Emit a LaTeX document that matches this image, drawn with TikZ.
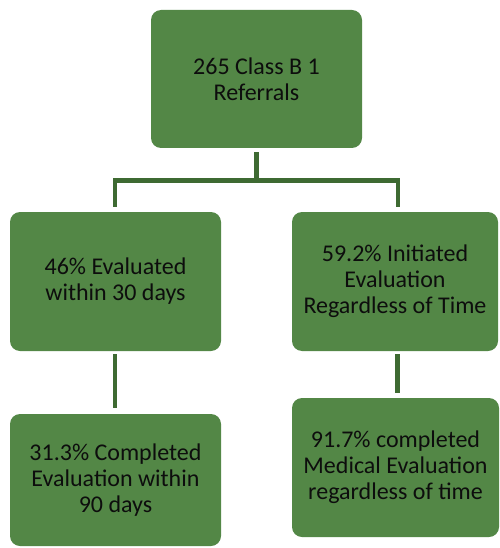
\documentclass[tikz,border=0pt]{standalone}
\usepackage{fontspec}
\setmainfont{Carlito}
\definecolor{boxgreen}{RGB}{83,135,70}
\definecolor{linegreen}{RGB}{62,106,50}
\definecolor{txt}{RGB}{13,13,13}
\begin{document}
\begin{tikzpicture}[x=1pt,y=-1pt,
  gbox/.style={rectangle, rounded corners=10pt, fill=boxgreen, draw=none,
    align=center, text=txt, inner sep=0pt,
    font=\fontsize{24pt}{26pt}\selectfont},
  conn/.style={draw=linegreen, line width=4.5pt, line join=miter}]
\useasboundingbox (0,0) rectangle (499,548);
\node[gbox, minimum width=211pt, minimum height=138pt] (top) at (256.5,79) {265 Class B 1\\Referrals};
\node[gbox, minimum width=211pt, minimum height=139pt] (l1) at (115.5,281.5) {46\% Evaluated\\within 30 days};
\node[gbox, minimum width=206pt, minimum height=139pt] (r1) at (395,281.5) {59.2\% Initiated\\Evaluation\\Regardless of Time};
\node[gbox, minimum width=211pt, minimum height=132pt] (l2) at (115.5,480) {31.3\% Completed\\Evaluation within\\90 days};
\node[gbox, minimum width=207pt, minimum height=139pt] (r2) at (395.5,467.5) {91.7\% completed\\Medical Evaluation\\regardless of time};
\coordinate (bar) at (256.5,180.5);
\draw[conn] ([yshift=-4pt]top.south) -- (top.south |- bar);
\draw[conn] ([xshift=-0.5pt,yshift=5pt]l1.north) |- (bar) -| ([xshift=3pt,yshift=5pt]r1.north);
\draw[conn] ([xshift=-0.5pt,yshift=-3pt]l1.south) -- ([xshift=-0.5pt,yshift=6pt]l2.north);
\draw[conn] ([xshift=2.5pt,yshift=-3pt]r1.south) -- ([xshift=2pt,yshift=5pt]r2.north);
\end{tikzpicture}
\end{document}
